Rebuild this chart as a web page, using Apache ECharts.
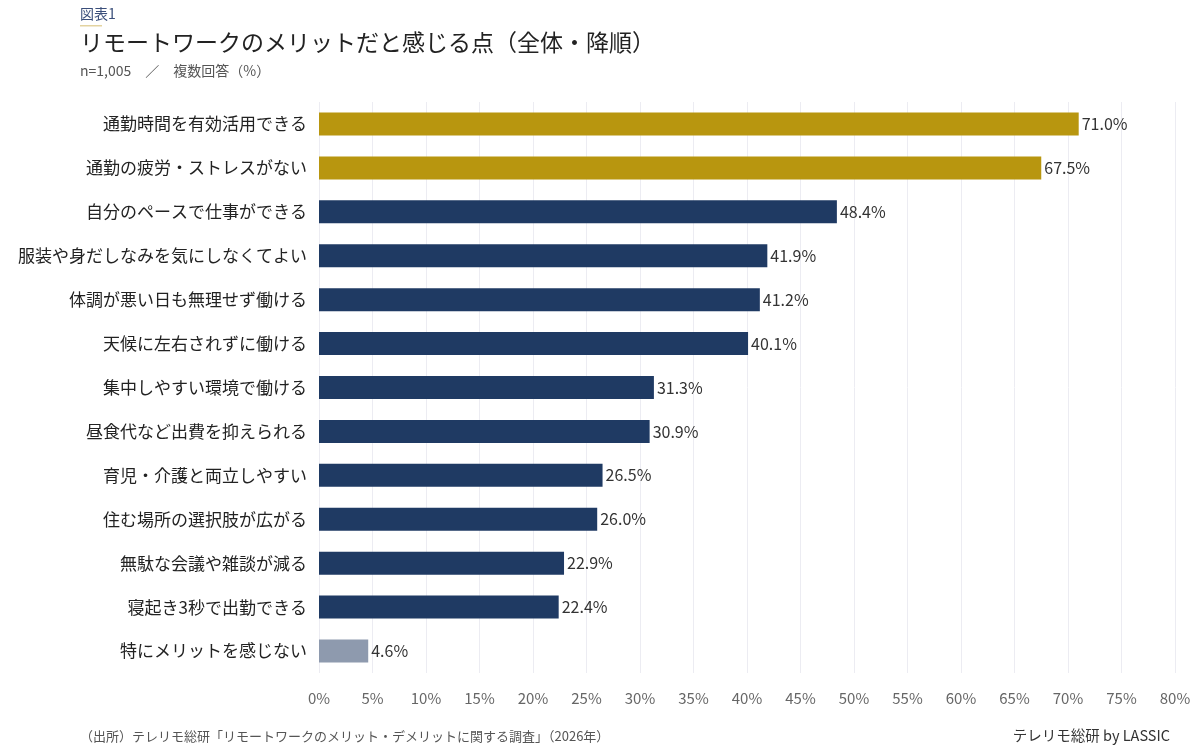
<!DOCTYPE html>
<html><head><meta charset="utf-8">
<script src="https://cdn.jsdelivr.net/npm/echarts@6/dist/echarts.min.js"></script>
<style>body{margin:0;background:#fff}#c{width:1200px;height:756px}</style>
</head><body><div id="c"></div>
<script>
const categories = ['通勤時間を有効活用できる','通勤の疲労・ストレスがない','自分のペースで仕事ができる','服装や身だしなみを気にしなくてよい','体調が悪い日も無理せず働ける','天候に左右されずに働ける','集中しやすい環境で働ける','昼食代など出費を抑えられる','育児・介護と両立しやすい','住む場所の選択肢が広がる','無駄な会議や雑談が減る','寝起き3秒で出勤できる','特にメリットを感じない'];
const values = [71.0,67.5,48.4,41.9,41.2,40.1,31.3,30.9,26.5,26.0,22.9,22.4,4.6];
const colorOf = i => i < 2 ? '#B8960F' : (i === values.length - 1 ? '#8E9AAE' : '#1F3A63');
const font = '"Noto Sans CJK JP", "Noto Sans", sans-serif';

const chart = echarts.init(document.getElementById('c'));
chart.setOption({
  textStyle: {fontFamily: font},
  graphic: [
    {type:'text', left:80, top:7, style:{text:'図表1', fontSize:14, fill:'#3A4E7A', fontFamily:font}},
    {type:'rect', left:80, top:25, shape:{width:22,height:1.5}, style:{fill:'#E3D3A0'}},
    {type:'text', left:80, top:31, style:{text:'リモートワークのメリットだと感じる点（全体・降順）', fontSize:23, fill:'#222', fontFamily:font}},
    {type:'text', left:80, top:64, style:{text:'n=1,005　／　複数回答（%）', fontSize:14, fill:'#555', fontFamily:font}},
    {type:'text', left:80, top:730, style:{text:'（出所）テレリモ総研「リモートワークのメリット・デメリットに関する調査」（2026年）', fontSize:13, fill:'#555', fontFamily:font}},
    {type:'text', right:30, top:728, style:{text:'テレリモ総研 by LASSIC', fontSize:14.5, fill:'#333', fontFamily:font}}
  ],
  grid: {left:319, right:25, top:102, bottom:83},
  xAxis: {
    type:'value', min:0, max:80, interval:5,
    axisLabel:{formatter:'{value}%', color:'#666', fontSize:15, margin:18},
    splitLine:{lineStyle:{color:'#ECECF2'}},
    axisLine:{show:false}, axisTick:{show:false}
  },
  yAxis: {
    type:'category', data:categories, inverse:true,
    axisLabel:{color:'#222', fontSize:17, margin:12},
    axisLine:{show:false}, axisTick:{show:false}
  },
  series: [{
    type:'bar', barWidth:23,
    data: values.map((v,i)=>({value:v, itemStyle:{color:colorOf(i)}})),
    label:{show:true, position:'right', distance:3, formatter:p=>p.value.toFixed(1)+'%', color:'#333', fontSize:16}
  }]
});
</script></body></html>
